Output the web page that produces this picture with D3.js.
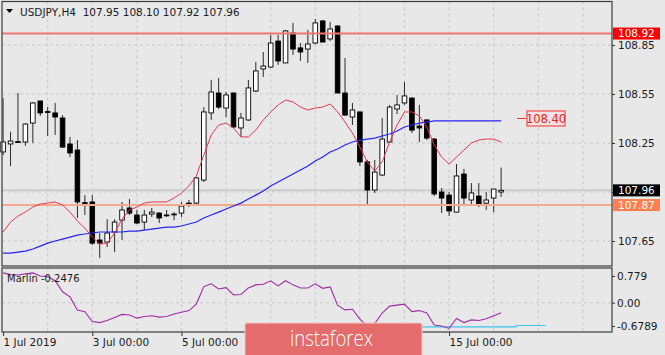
<!DOCTYPE html>
<html>
<head>
<meta charset="utf-8">
<script src="https://cdn.jsdelivr.net/npm/d3@7"></script>
<style>
  body { margin: 0; background: #e8e8e8; }
  svg { display: block; font-family: "DejaVu Sans", sans-serif; }
</style>
</head>
<body>
<div id="chart"></div>
<script>
// ---- data ----
const titleText = "USDJPY,H4  107.95 108.10 107.92 107.96";
const indicatorName = "Marlin -0.2476";

const opens = [108.195,108.244,108.258,108.256,108.372,108.507,108.442,108.434,108.403,108.244,
  108.207,107.885,107.889,107.656,107.644,107.705,107.778,107.852,107.809,107.766,
  107.815,107.821,107.809,107.812,107.821,107.879,107.882,108.023,108.434,108.556,
  108.464,108.556,108.342,108.391,108.568,108.703,108.715,108.874,108.740,108.923,
  108.832,108.825,108.862,108.997,108.887,108.966,108.556,108.409,108.440,108.134,
  107.962,108.054,108.256,108.458,108.495,108.525,108.354,108.391,108.274,107.950,
  107.931,107.827,108.060,107.901,107.925,107.882,107.913,107.95];
const highs = [108.525,108.319,108.556,108.372,108.501,108.510,108.470,108.495,108.421,108.287,
  108.268,107.931,107.931,107.699,107.784,107.784,107.889,107.907,107.840,107.840,
  107.852,107.827,107.840,107.827,107.889,107.901,108.042,108.470,108.636,108.648,
  108.562,108.560,108.434,108.636,108.746,108.807,108.911,108.911,108.942,108.985,
  108.862,108.942,109.009,109.003,108.991,108.972,108.770,108.495,108.440,108.146,
  108.146,108.403,108.483,108.544,108.623,108.530,108.483,108.395,108.280,107.974,
  107.950,108.121,108.091,108.005,108.005,107.950,107.968,108.10];
const lows = [108.176,108.109,108.250,108.232,108.250,108.415,108.293,108.299,108.219,108.164,
  107.791,107.809,107.625,107.546,107.613,107.582,107.656,107.809,107.754,107.717,
  107.797,107.760,107.797,107.778,107.797,107.858,107.876,108.011,108.391,108.458,
  108.409,108.342,108.287,108.385,108.562,108.654,108.709,108.728,108.740,108.789,
  108.752,108.740,108.856,108.868,108.874,108.556,108.415,108.360,108.109,107.876,
  107.944,108.048,108.250,108.427,108.483,108.311,108.256,108.268,107.925,107.821,
  107.803,107.825,107.870,107.876,107.858,107.840,107.827,107.92];
const closes = [108.256,108.262,108.254,108.366,108.495,108.434,108.438,108.409,108.225,108.189,
  107.889,107.882,107.637,107.637,107.699,107.766,107.840,107.821,107.760,107.809,
  107.827,107.791,107.806,107.815,107.864,107.882,108.036,108.440,108.562,108.470,
  108.544,108.348,108.403,108.587,108.691,108.721,108.862,108.752,108.936,108.825,
  108.807,108.856,108.985,108.868,108.948,108.556,108.421,108.452,108.134,107.962,
  108.072,108.274,108.470,108.483,108.538,108.329,108.342,108.280,107.938,107.913,
  107.834,108.048,107.913,107.944,107.870,107.901,107.968,107.96];

const fastMA = [107.705,107.766,107.803,107.827,107.858,107.876,107.882,107.889,107.870,107.827,
  107.772,107.729,107.674,107.631,107.637,107.699,107.784,107.840,107.858,107.882,
  107.889,107.889,107.889,107.913,107.944,107.987,108.048,108.176,108.299,108.360,
  108.372,108.342,108.287,108.287,108.329,108.391,108.440,108.483,108.513,108.501,
  108.470,108.452,108.464,108.470,108.489,108.440,108.378,108.311,108.225,108.134,
  108.078,108.134,108.256,108.360,108.440,108.440,108.415,108.348,108.238,108.164,
  108.121,108.164,108.207,108.250,108.268,108.274,108.274,108.256];
const slowMA = [107.576,107.576,107.582,107.588,107.601,107.619,107.637,107.650,107.662,107.674,
  107.686,107.693,107.699,107.705,107.705,107.705,107.705,107.711,107.711,107.717,
  107.723,107.729,107.735,107.735,107.742,107.754,107.766,107.791,107.809,107.827,
  107.846,107.864,107.882,107.907,107.931,107.956,107.987,108.011,108.036,108.060,
  108.085,108.109,108.140,108.164,108.195,108.213,108.238,108.256,108.268,108.274,
  108.280,108.293,108.305,108.323,108.348,108.360,108.372,108.378,108.385,108.385,
  108.385,108.385,108.385,108.385,108.385,108.385,108.385,108.385];

const marlin = [0.87,0.82,0.81,0.84,0.87,0.78,0.76,0.64,0.32,0.17,
  -0.21,-0.26,-0.55,-0.58,-0.52,-0.43,-0.34,-0.36,-0.45,-0.40,
  -0.38,-0.42,-0.40,-0.33,-0.28,-0.23,-0.04,0.47,0.55,0.40,
  0.44,0.23,0.24,0.43,0.52,0.54,0.64,0.49,0.64,0.52,
  0.43,0.43,0.55,0.42,0.46,-0.07,-0.21,-0.19,-0.48,-0.68,
  -0.61,-0.30,-0.10,-0.07,-0.04,-0.26,-0.23,-0.30,-0.65,-0.68,
  -0.75,-0.46,-0.58,-0.50,-0.52,-0.47,-0.38,-0.29];
const marlinLevelBars = [56, 69, 69, 73];
const marlinLevel = [-0.705, -0.705, -0.665, -0.665];

const priceTicks = [107.65, 107.95, 108.25, 108.55, 108.85];
const marlinTicks = [0.779, 0, -0.6789];
const marlinTickLabels = ["0.779", "0.00", "-0.6789"];
const timeTickBars = [0, 12, 24, 60];
const timeTickLabels = ["1 Jul 2019", "3 Jul 00:00", "5 Jul 00:00", "15 Jul 00:00"];

const resistancePrice = 108.92;
const supportPrice = 107.87;
const bidPrice = 107.96;
const alertPrice = 108.40;

// ---- layout ----
const W = 665, H = 355;
const left = 2, right = 612;
const mainTop = 1.5, mainBottom = 266;
const subTop = 268, subBottom = 332;

const svg = d3.select("#chart").append("svg").attr("width", W).attr("height", H);
svg.append("rect").attr("width", W).attr("height", H).attr("fill", "#e8e8e8");

const x = d3.scaleLinear().domain([0, 82]).range([3.1, 3.1 + 82 * 7.433]);
const y = d3.scaleLinear().domain([107.497, 109.113]).range([mainBottom, 2]);
const ym = d3.scaleLinear().domain([-0.854, 1.012]).range([subBottom, subTop]);

const gridColor = "#c6c6c6";
const gridBars = d3.range(6, 82, 6);

// grids
const grid = svg.append("g").attr("stroke", gridColor).attr("stroke-dasharray", "3,3").attr("stroke-width", 1);
grid.selectAll("line.v").data(gridBars).join("line")
  .attr("x1", d => x(d)).attr("x2", d => x(d)).attr("y1", mainTop).attr("y2", mainBottom);
grid.selectAll("line.vs").data(gridBars).join("line")
  .attr("x1", d => x(d)).attr("x2", d => x(d)).attr("y1", subTop).attr("y2", subBottom);
grid.selectAll("line.h").data(priceTicks).join("line")
  .attr("x1", left).attr("x2", right).attr("y1", d => y(d)).attr("y2", d => y(d));
grid.append("line").attr("x1", left).attr("x2", right).attr("y1", ym(0)).attr("y2", ym(0));

// bid line
svg.append("line").attr("x1", left).attr("x2", right)
  .attr("y1", y(bidPrice)).attr("y2", y(bidPrice))
  .attr("stroke", "#cdcdcd").attr("stroke-width", 2);

// candles
const idx = d3.range(opens.length);
const cg = svg.append("g");
cg.selectAll("line").data(idx).join("line")
  .attr("x1", i => x(i)).attr("x2", i => x(i))
  .attr("y1", i => y(highs[i])).attr("y2", i => y(lows[i]))
  .attr("stroke", "#2a2a2a").attr("stroke-width", 1);
cg.selectAll("rect").data(idx).join("rect")
  .attr("x", i => x(i) - 2.3).attr("width", 4.6)
  .attr("y", i => y(Math.max(opens[i], closes[i])))
  .attr("height", i => Math.max(0.8, Math.abs(y(opens[i]) - y(closes[i]))))
  .attr("fill", i => closes[i] >= opens[i] ? "#ffffff" : "#000000")
  .attr("stroke", "#000").attr("stroke-width", 0.9);

// horizontal levels
svg.append("line").attr("x1", left).attr("x2", right)
  .attr("y1", y(resistancePrice)).attr("y2", y(resistancePrice))
  .attr("stroke", "#f07474").attr("stroke-width", 2);
svg.append("line").attr("x1", left).attr("x2", right)
  .attr("y1", y(supportPrice)).attr("y2", y(supportPrice))
  .attr("stroke", "#f6a88c").attr("stroke-width", 2);

// moving averages
const maLine = d3.line().x((d, i) => x(i)).y(d => y(d));
svg.append("path").datum(slowMA).attr("d", maLine)
  .attr("fill", "none").attr("stroke", "#2424f2").attr("stroke-width", 1.2);
svg.append("path").datum(fastMA).attr("d", maLine)
  .attr("fill", "none").attr("stroke", "#e23a52").attr("stroke-width", 1);

// alert label 108.40
const ay = y(alertPrice);
svg.append("line").attr("x1", 517).attr("x2", 527).attr("y1", ay).attr("y2", ay)
  .attr("stroke", "#f03030").attr("stroke-width", 1);
svg.append("rect").attr("x", 527).attr("y", ay - 7.5).attr("width", 38).attr("height", 15)
  .attr("fill", "#efe2e2").attr("stroke", "#f26a6a").attr("stroke-width", 1.5);
svg.append("text").attr("x", 546).attr("y", ay).attr("dy", "0.36em")
  .attr("text-anchor", "middle").attr("font-size", 11.5).attr("fill", "#ee2020")
  .text(alertPrice.toFixed(2));

// marlin sub-window
const mLine = d3.line().x((d, i) => x(i)).y(d => ym(d));
svg.append("path").datum(marlinLevel)
  .attr("d", d3.line().x((d, i) => x(marlinLevelBars[i])).y(d => ym(d)))
  .attr("fill", "none").attr("stroke", "#3cc4ef").attr("stroke-width", 1.2);
svg.append("path").datum(marlin).attr("d", mLine)
  .attr("fill", "none").attr("stroke", "#a02ca8").attr("stroke-width", 1.1);

// frames
svg.append("rect").attr("x", left).attr("y", mainTop).attr("width", right - left).attr("height", mainBottom - mainTop)
  .attr("fill", "none").attr("stroke", "#3c3c3c").attr("stroke-width", 1.2);
svg.append("rect").attr("x", left).attr("y", subTop).attr("width", right - left).attr("height", subBottom - subTop)
  .attr("fill", "none").attr("stroke", "#3c3c3c").attr("stroke-width", 1.2);

// axes
const fs = 10.5;
const pAxis = svg.append("g").attr("transform", `translate(${right},0)`)
  .call(d3.axisRight(y).tickValues(priceTicks).tickFormat(d3.format(".2f")).tickSize(3).tickPadding(3));
pAxis.select(".domain").remove();
pAxis.selectAll("text").attr("font-size", fs).attr("fill", "#1a1a1a").attr("font-family", "DejaVu Sans");
pAxis.selectAll("line").attr("stroke", "#333");
// the 107.95 label sits under the bid tag
pAxis.selectAll(".tick").filter(d => Math.abs(d - bidPrice) < 0.05).select("text").remove();

const mAxis = svg.append("g").attr("transform", `translate(${right},0)`)
  .call(d3.axisRight(ym).tickValues(marlinTicks).tickFormat((d, i) => marlinTickLabels[i]).tickSize(3).tickPadding(2));
mAxis.select(".domain").remove();
mAxis.selectAll("text").attr("font-size", fs).attr("fill", "#1a1a1a").attr("font-family", "DejaVu Sans");
mAxis.selectAll("line").attr("stroke", "#333");

const tAxis = svg.append("g").attr("transform", `translate(0,${subBottom})`)
  .call(d3.axisBottom(x).tickValues(timeTickBars).tickFormat((d, i) => timeTickLabels[i]).tickSize(4).tickPadding(3));
tAxis.select(".domain").remove();
tAxis.selectAll("line").attr("stroke", "#333");
tAxis.selectAll("text").attr("font-size", fs).attr("fill", "#1a1a1a").attr("font-family", "DejaVu Sans")
  .attr("text-anchor", "start").attr("x", 0);

// price tags on the right
function tag(price, fill) {
  const ty = y(price);
  svg.append("rect").attr("x", right + 1).attr("y", ty - 6).attr("width", 47).attr("height", 12).attr("fill", fill);
  svg.append("text").attr("x", right + 6).attr("y", ty).attr("dy", "0.36em")
    .attr("font-size", fs).attr("fill", "#fff").text(price.toFixed(2));
}
tag(resistancePrice, "#ff0000");
tag(bidPrice, "#000000");
tag(supportPrice, "#ff7f50");

// titles
svg.append("path").attr("d", "M6,9 L13,9 L9.5,13 Z").attr("fill", "#000");
svg.append("text").attr("x", 20).attr("y", 16).attr("font-size", fs).attr("fill", "#1a1a1a")
  .attr("xml:space", "preserve").style("white-space", "pre").text(titleText);
svg.append("text").attr("x", 7).attr("y", 282).attr("font-size", 10).attr("fill", "#1a1a1a").text(indicatorName);

// instaforex banner
svg.append("rect").attr("x", 245).attr("y", 323).attr("width", 177).attr("height", 36).attr("rx", 2)
  .attr("fill", "#e46c6c").attr("stroke", "#f2c4c4").attr("stroke-width", 1);
svg.append("text").attr("x", 290).attr("y", 346).attr("font-family", "Open Sans, sans-serif")
  .attr("font-size", 22).attr("font-weight", 300).attr("fill", "#ffffff")
  .attr("textLength", 83).attr("lengthAdjust", "spacingAndGlyphs").text("instaforex");
</script>
</body>
</html>
